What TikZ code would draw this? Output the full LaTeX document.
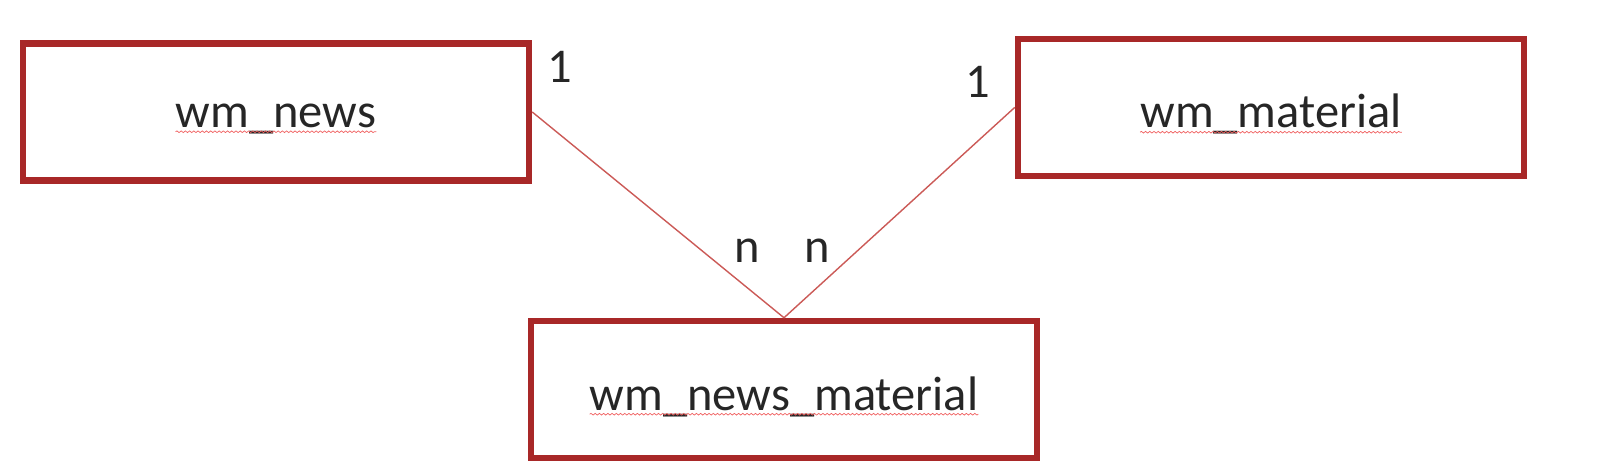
\documentclass[tikz,border=0pt]{standalone}
\usepackage{fontspec}
\setmainfont{Carlito}
\usepackage{tikz}
\usetikzlibrary{positioning,decorations.pathmorphing}
\definecolor{boxred}{HTML}{A82828}
\definecolor{linered}{HTML}{CB5A57}
\definecolor{textgray}{HTML}{262626}
\definecolor{spellred}{HTML}{F06060}

\begin{document}
\begin{tikzpicture}[
			tbl/.style={draw=boxred,line width=4.6pt,minimum width=12.65cm,minimum height=3.42cm},
			tbltext/.style={inner sep=0pt,yshift=-5pt,text=textgray,font=\fontsize{34.5}{40}\selectfont},
			card/.style={text=textgray,font=\fontsize{34.5}{40}\selectfont},
			rel/.style={linered,line width=1pt},
			squig/.style={spellred,line width=0.5pt,decorate,decoration={snake,amplitude=0.6pt,segment length=3pt}}
			]
			\useasboundingbox (0,0) rectangle (40.05,11.875);
			% tables
			\node[tbl] (news) at (6.9,9.075) {};
			\node[tbl] (mat) at (31.775,9.19) {};
			\node[tbl] (nm) at (19.6,2.14) {};
			\node[tbltext] (tnews) at (news) {wm\_news};
			\node[tbltext] (tmat) at (mat) {wm\_material};
			\node[tbltext] (tnm) at (nm) {wm\_news\_material};
			\foreach \t in {tnews,tmat,tnm}
				\draw[squig] ([yshift=-3pt]\t.base west) -- ([yshift=-3pt]\t.base east);
			% relations
			\draw[rel] (news.east) -- (nm.north);
			\draw[rel] (mat.west) -- (nm.north);
			\node[card] (c1) at (14.0,10.2) {1};
			\node[card] (c2) at (24.45,9.83) {1};
			\node[card] (c3) at (18.675,5.6) {n};
			\node[card] (c4) at (20.425,5.6) {n};
		\end{tikzpicture}
\end{document}
